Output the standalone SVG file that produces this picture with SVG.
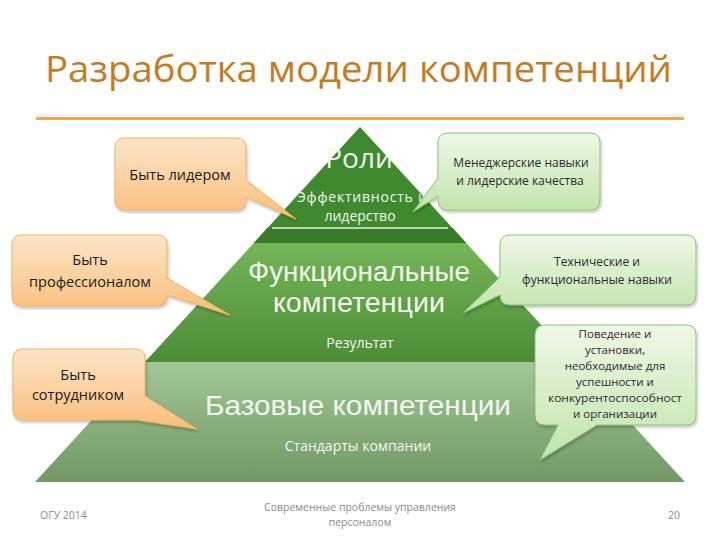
<svg xmlns="http://www.w3.org/2000/svg" width="720" height="540" viewBox="0 0 720 540">
  <defs>
    <linearGradient id="gOrange" x1="0" y1="0" x2="0" y2="1">
      <stop offset="0" stop-color="#FDE6CA"/>
      <stop offset="1" stop-color="#F9BD78"/>
    </linearGradient>
    <linearGradient id="gGreen" x1="0" y1="0" x2="0" y2="1">
      <stop offset="0" stop-color="#EEF8E7"/>
      <stop offset="1" stop-color="#C2E4AB"/>
    </linearGradient>
    <linearGradient id="gTier2" x1="0" y1="0" x2="0" y2="1">
      <stop offset="0" stop-color="#74B658"/>
      <stop offset="1" stop-color="#4D8C37"/>
    </linearGradient>
    <linearGradient id="gTier3" x1="0" y1="0" x2="0" y2="1">
      <stop offset="0" stop-color="#A3C796"/>
      <stop offset="1" stop-color="#719866"/>
    </linearGradient>
    <filter id="shadow" x="-10%" y="-10%" width="130%" height="140%">
      <feDropShadow dx="1" dy="2" stdDeviation="1.5" flood-color="#000" flood-opacity="0.25"/>
    </filter>
  </defs>
  <style>
    text { font-family: "Open Sans", "Liberation Sans", sans-serif; }
    .title { font-size: 36px; fill: #C77B20; }
    .pyr { fill: #F2F8EE; text-anchor: middle; }
    .big { font-size: 27px; font-family: "Liberation Sans", "Open Sans", sans-serif; }
    .mid { font-size: 14px; }
    .small { font-size: 14px; }
    .orange { fill: url(#gOrange); stroke: #F3B060; stroke-width: 1; filter: url(#shadow); }
    .green { fill: url(#gGreen); stroke: #8CC276; stroke-width: 1; filter: url(#shadow); }
    .otext { font-size: 14.5px; fill: #1A1A1A; text-anchor: middle; }
    .gtext { font-size: 12px; fill: #2A2A2A; text-anchor: middle; }
    .gsmall { font-size: 11.5px; }
    .foot { font-size: 10.5px; fill: #8A8A8A; }
  </style>

  <rect width="720" height="540" fill="#FFFFFF"/>

  <g id="title">
    <text class="title" x="45" y="82" textLength="627" lengthAdjust="spacingAndGlyphs">Разработка модели компетенций</text>
    <line x1="36" y1="115" x2="684" y2="115" stroke="#DDEFF7" stroke-width="1.5"/>
    <line x1="36" y1="118.5" x2="684" y2="118.5" stroke="#F2A544" stroke-width="3"/>
  </g>

  <g id="pyramid">
    <g id="tier-roles">
      <polygon points="360,127 253.8,243 466.2,243" fill="#3F8A2E"/>
      <polygon points="267.5,228 452.5,228 466.2,243 253.8,243" fill="#3A7B2B"/>
      <line x1="272" y1="228" x2="448" y2="228" stroke="#E8F2E0" stroke-width="1.5"/>
      <text class="pyr" x="359" y="168" style="font-size:28px">Роли</text>
      <text class="pyr mid" x="362" y="201.5" textLength="130" lengthAdjust="spacing">Эффективность и</text>
      <text class="pyr mid" x="360" y="221">лидерство</text>
    </g>
    <g id="tier-functional">
      <polygon points="253.8,243 466.2,243 575.1,362 144.9,362" fill="url(#gTier2)"/>
      <text class="pyr big" x="359" y="281" textLength="222" lengthAdjust="spacingAndGlyphs">Функциональные</text>
      <text class="pyr big" x="359" y="312" textLength="172" lengthAdjust="spacingAndGlyphs">компетенции</text>
      <text class="pyr small" x="360" y="348">Результат</text>
    </g>
    <g id="tier-base">
      <polygon points="144.9,362 575.1,362 685,482 35,482" fill="url(#gTier3)"/>
      <text class="pyr big" x="358" y="415" textLength="306" lengthAdjust="spacingAndGlyphs">Базовые компетенции</text>
      <text class="pyr small" x="358" y="451">Стандарты компании</text>
    </g>
  </g>

  <g id="connectors">
    <g id="callout-leader">
      <path class="orange" d="M125,138 H236 Q246,138 246,148 V180 L296,219 L246,197 V200 Q246,210 236,210 H125 Q115,210 115,200 V148 Q115,138 125,138 Z"/>
      <text class="otext" x="180" y="180">Быть лидером</text>
    </g>
    <g id="callout-professional">
      <path class="orange" d="M22,235 H157 Q167,235 167,245 V278 L230,315 L167,295 V296 Q167,306 157,306 H22 Q12,306 12,296 V245 Q12,235 22,235 Z"/>
      <text class="otext" x="90" y="265">Быть</text>
      <text class="otext" x="90" y="287">профессионалом</text>
    </g>
    <g id="callout-employee">
      <path class="orange" d="M23,349 H135 Q145,349 145,359 V396 L197,429 L137,420 H23 Q13,420 13,410 V359 Q13,349 23,349 Z"/>
      <text class="otext" x="78" y="380">Быть</text>
      <text class="otext" x="78" y="400">сотрудником</text>
    </g>
    <g id="callout-management">
      <path class="green" d="M448,133 H590 Q600,133 600,143 V200 Q600,210 590,210 H448 Q438,210 438,200 V196 L413,212 L438,178 V143 Q438,133 448,133 Z"/>
      <text class="gtext" x="521" y="167">Менеджерские навыки</text>
      <text class="gtext" x="520" y="185">и лидерские качества</text>
    </g>
    <g id="callout-technical">
      <path class="green" d="M510,235 H686 Q696,235 696,245 V295 Q696,305 686,305 H510 Q500,305 500,295 L463,313 L500,277 V245 Q500,235 510,235 Z"/>
      <text class="gtext" x="597" y="266">Технические и</text>
      <text class="gtext" x="597" y="284">функциональные навыки</text>
    </g>
    <g id="callout-behaviour">
      <path class="green" d="M545,325 H686 Q696,325 696,335 V415 Q696,425 686,425 H597 L540,460 L558,425 H545 Q535,425 535,415 V335 Q535,325 545,325 Z"/>
      <text class="gtext gsmall" x="615" y="338">Поведение и</text>
      <text class="gtext gsmall" x="615" y="354">установки,</text>
      <text class="gtext gsmall" x="615" y="370">необходимые для</text>
      <text class="gtext gsmall" x="615" y="386">успешности и</text>
      <text class="gtext gsmall" x="615" y="402" textLength="134" lengthAdjust="spacingAndGlyphs">конкурентоспособност</text>
      <text class="gtext gsmall" x="615" y="418">и организации</text>
    </g>
  </g>

  <g id="footer">
    <text class="foot" x="40" y="519">ОГУ 2014</text>
    <text class="foot" x="360" y="511" text-anchor="middle">Современные проблемы управления</text>
    <text class="foot" x="360" y="526" text-anchor="middle">персоналом</text>
    <text class="foot" x="680" y="519" text-anchor="end">20</text>
  </g>
</svg>
